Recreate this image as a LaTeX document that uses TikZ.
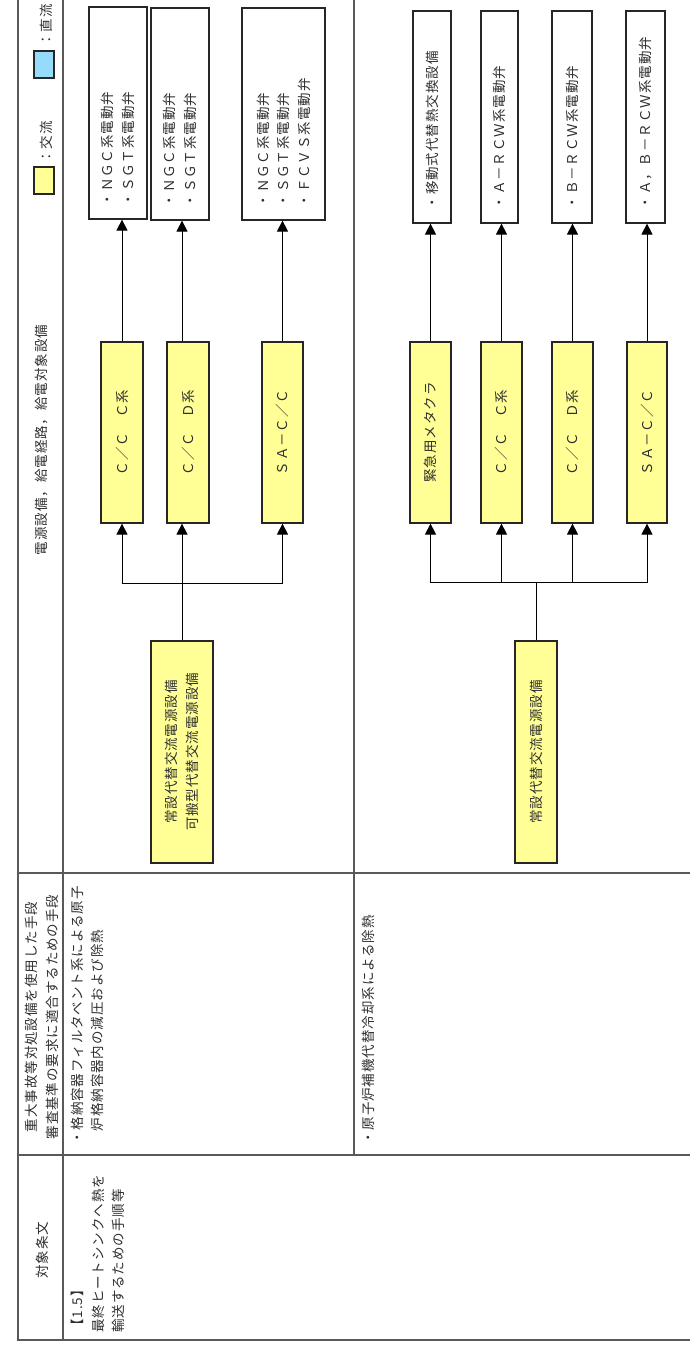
\documentclass[tikz,border=0pt]{standalone}
\usepackage{fontspec}
\setmainfont{Noto Sans CJK JP}
\newfontfamily\jp[LetterSpace=7]{Noto Sans CJK JP}
\usetikzlibrary{arrows.meta}
\definecolor{yfill}{RGB}{255,255,150}
\definecolor{bfill}{RGB}{150,220,250}
\begin{document}
\begin{tikzpicture}[x=1pt,y=-1pt,
  font=\jp\fontsize{13.5}{20.5}\selectfont,
  tline/.style={draw=black!65,line width=1.2pt},
  ybox/.style={draw=black!85,line width=1.2pt,fill=yfill,inner sep=0pt},
  wbox/.style={draw=black!85,line width=1.2pt,fill=white,inner sep=0pt},
  rtxt/.style={rotate=90,text=black!82,inner sep=0pt,align=left},
  ctxt/.style={rotate=90,text=black!82,inner sep=0pt,align=center},
  conn/.style={draw=black,line width=1pt},
  arr/.style={draw=black,line width=1pt,-{Triangle[width=11pt,length=11pt]}}]
\useasboundingbox (0,0) rectangle (690,1345);
% table lines
\draw[tline] (18,0) -- (18,1340) -- (690,1340);
\draw[tline] (63,0) -- (63,1340);
\draw[tline] (354,0) -- (354,1155);
\draw[tline] (18,873) -- (690,873);
\draw[tline] (18,1155) -- (690,1155);
% header column
\node[ctxt] (hA) at (42,1250) {対象条文};
\node[ctxt] (hB) at (42,1017) {重大事故等対処設備を使用した手段\\審査基準の要求に適合するための手段};
\node[ctxt] (hC) at (42,440) {電源設備，給電経路，給電対象設備};
% legend
\node[ybox,minimum width=20pt,minimum height=27pt] (ly) at (44,180.5) {};
\node[rtxt,anchor=west] (lyt) at (46,164) {：交流};
\node[draw=black!85,line width=1.2pt,fill=bfill,inner sep=0pt,minimum width=20pt,minimum height=27pt] (lb) at (44,64.5) {};
\node[rtxt,anchor=west] (lbt) at (46,47) {：直流};
% article cell
\node[rtxt,anchor=west] (art) at (98,1333) {【1.5】\\最終ヒートシンクへ熱を\\輸送するための手順等};
% means texts
\node[rtxt,anchor=west] (m1) at (87.5,1145) {・格納容器フィルタベント系による原子\\\hspace*{1em}炉格納容器内の減圧および除熱};
\node[rtxt,anchor=west] (m2) at (368,1145) {・原子炉補機代替冷却系による除熱};
% row 1 boxes
\node[wbox,minimum width=58pt,minimum height=212pt] (w1) at (118,113) {};
\node[wbox,minimum width=58pt,minimum height=212pt] (w2) at (180,114) {};
\node[wbox,minimum width=83pt,minimum height=212pt] (w3) at (283.5,114) {};
\node[ybox,minimum width=42pt,minimum height=181pt] (c1) at (122,432.5) {};
\node[ybox,minimum width=42pt,minimum height=181pt] (d1) at (188,432.5) {};
\node[ybox,minimum width=41pt,minimum height=181pt] (a1) at (282.5,432.5) {};
\node[ybox,minimum width=62pt,minimum height=222pt] (s1) at (182,752) {};
\node[rtxt,anchor=west] (w1t) at ([yshift=13pt]w1.south) {・ＮＧＣ系電動弁\\・ＳＧＴ系電動弁};
\node[rtxt,anchor=west] (w2t) at ([yshift=13pt]w2.south) {・ＮＧＣ系電動弁\\・ＳＧＴ系電動弁};
\node[rtxt,anchor=west] (w3t) at ([yshift=13pt]w3.south) {・ＮＧＣ系電動弁\\・ＳＧＴ系電動弁\\・ＦＣＶＳ系電動弁};
\node[ctxt] (c1t) at (c1.center) {Ｃ／Ｃ　Ｃ系};
\node[ctxt] (d1t) at (d1.center) {Ｃ／Ｃ　Ｄ系};
\node[ctxt] (a1t) at (a1.center) {ＳＡ－Ｃ／Ｃ};
\node[ctxt] (s1t) at (s1.center) {常設代替交流電源設備\\可搬型代替交流電源設備};
% row 2 boxes
\node[wbox,minimum width=38pt,minimum height=212pt] (w4) at (432,117) {};
\node[wbox,minimum width=37pt,minimum height=212pt] (w5) at (499.5,117) {};
\node[wbox,minimum width=40pt,minimum height=212pt] (w6) at (572,117) {};
\node[wbox,minimum width=39pt,minimum height=212pt] (w7) at (645.5,117) {};
\node[ybox,minimum width=41pt,minimum height=181pt] (k2) at (430.5,432.5) {};
\node[ybox,minimum width=41pt,minimum height=181pt] (c2) at (501.5,432.5) {};
\node[ybox,minimum width=41pt,minimum height=181pt] (d2) at (572.5,432.5) {};
\node[ybox,minimum width=40pt,minimum height=181pt] (a2) at (647,432.5) {};
\node[ybox,minimum width=42pt,minimum height=222pt] (s2) at (536,752) {};
\node[rtxt,anchor=west] (w4t) at ([yshift=14pt]w4.south) {・移動式代替熱交換設備};
\node[rtxt,anchor=west] (w5t) at ([yshift=14pt]w5.south) {・Ａ－ＲＣＷ系電動弁};
\node[rtxt,anchor=west] (w6t) at ([yshift=14pt]w6.south) {・Ｂ－ＲＣＷ系電動弁};
\node[rtxt,anchor=west] (w7t) at ([yshift=14pt]w7.south) {・Ａ，Ｂ－ＲＣＷ系電動弁};
\node[ctxt] (k2t) at (k2.center) {緊急用メタクラ};
\node[ctxt] (c2t) at (c2.center) {Ｃ／Ｃ　Ｃ系};
\node[ctxt] (d2t) at (d2.center) {Ｃ／Ｃ　Ｄ系};
\node[ctxt] (a2t) at (a2.center) {ＳＡ－Ｃ／Ｃ};
\node[ctxt] (s2t) at (s2.center) {常設代替交流電源設備};
% connectors row 1
\coordinate (j1) at (182,583);
\draw[arr] (s1.north) -- (s1.north |- d1.south);
\draw[arr] (j1) -| (c1.south);
\draw[arr] (j1) -| (a1.south);
\draw[arr] (c1.north) -- (c1.north |- w1.south);
\draw[arr] (s1.north |- d1.north) -- (s1.north |- w2.south);
\draw[arr] (a1.north) -- (a1.north |- w3.south);
% connectors row 2
\coordinate (j2) at (536,582);
\draw[conn] (s2.north) -- (j2);
\draw[arr] (j2) -| (k2.south);
\draw[arr] (j2) -| (c2.south);
\draw[arr] (j2) -| (d2.south);
\draw[arr] (j2) -| (a2.south);
\draw[arr] (k2.north) -- (k2.north |- w4.south);
\draw[arr] (c2.north) -- (c2.north |- w5.south);
\draw[arr] (d2.north) -- (d2.north |- w6.south);
\draw[arr] (a2.north) -- (a2.north |- w7.south);
\end{tikzpicture}
\end{document}
